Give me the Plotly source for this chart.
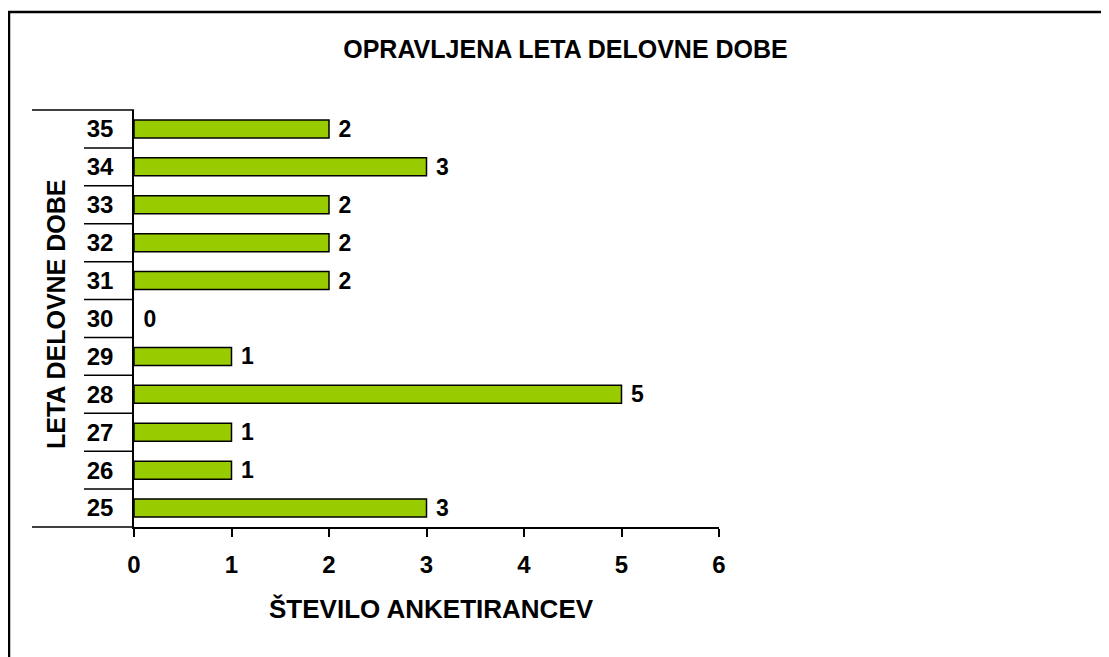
import plotly.graph_objects as go

categories = ["25", "26", "27", "28", "29", "30", "31", "32", "33", "34", "35"]
values = [3, 1, 1, 5, 1, 0, 2, 2, 2, 3, 2]
x_ticks = [0, 1, 2, 3, 4, 5, 6]

title_text = "OPRAVLJENA LETA DELOVNE DOBE"
x_title = "ŠTEVILO ANKETIRANCEV"
y_title = "LETA DELOVNE DOBE"

OFF = 8  # page body margin
W, H = 1109, 657
L, T = 134 - OFF, 110 - OFF
pw, ph = 585, 417
R = W - L - pw
B = H - T - ph

FONT = "Liberation Sans, Arial, sans-serif"


def px(xs):
    return (xs - OFF - L) / pw


def py(ys):
    return 1 - (ys - OFF - T) / ph


fig = go.Figure()
fig.add_trace(go.Bar(
    y=categories, x=values, orientation="h",
    width=0.475,
    marker=dict(color="#99CC00",
                line=dict(color="black", width=[1.5 if v > 0 else 0 for v in values])),
    texttemplate=" %{x}", textposition="outside", cliponaxis=False,
    constraintext="none",
    textfont=dict(family=FONT, size=23, color="black", weight="bold"),
))

shapes = []
n = len(categories)
for i in range(n + 1):
    yv = i / n
    x0 = px(32) if i in (0, n) else px(84)
    shapes.append(dict(type="line", xref="paper", yref="paper", x0=x0, x1=0,
                       y0=yv, y1=yv, line=dict(color="black", width=1.5)))
shapes.append(dict(type="rect", xref="paper", yref="paper",
                   x0=px(9), x1=px(1125),
                   y0=py(670), y1=py(12),
                   line=dict(color="black", width=2.5)))

fig.update_layout(
    width=W, height=H,
    margin=dict(l=L, r=R, t=T, b=B),
    paper_bgcolor="white", plot_bgcolor="white",
    showlegend=False,
    font=dict(family=FONT, color="black"),
    title=dict(text=title_text, x=(565.5 - OFF) / W, xanchor="center", xref="container",
               y=1 - (49 - OFF) / H, yanchor="middle", yref="container",
               font=dict(family=FONT, size=25, weight="bold", color="black")),
    xaxis=dict(range=[0, 6], tickvals=x_ticks, ticktext=[str(v) for v in x_ticks],
               showgrid=False, zeroline=False, showline=True, linecolor="black", linewidth=1.5,
               ticks="outside", ticklen=8, tickwidth=1.5, tickcolor="black",
               ticklabelstandoff=7,
               tickfont=dict(family=FONT, size=24, weight="bold", color="black")),
    yaxis=dict(type="category", categoryorder="array", categoryarray=categories,
               range=[-0.5, n - 0.5],
               showgrid=False, zeroline=False, showline=True, linecolor="black", linewidth=1.5,
               ticks="", ticklabelstandoff=14,
               tickfont=dict(family=FONT, size=24, weight="bold", color="black")),
    shapes=shapes,
    annotations=[
        dict(text=x_title, xref="paper", yref="paper", x=px(431), y=py(609),
             xanchor="center", yanchor="middle", showarrow=False,
             font=dict(family=FONT, size=26, weight="bold", color="black")),
        dict(text=y_title, xref="paper", yref="paper", x=px(56), y=py(315),
             xanchor="center", yanchor="middle", showarrow=False, textangle=-90,
             font=dict(family=FONT, size=25, weight="bold", color="black")),
    ],
)

fig.write_html("out.html")
